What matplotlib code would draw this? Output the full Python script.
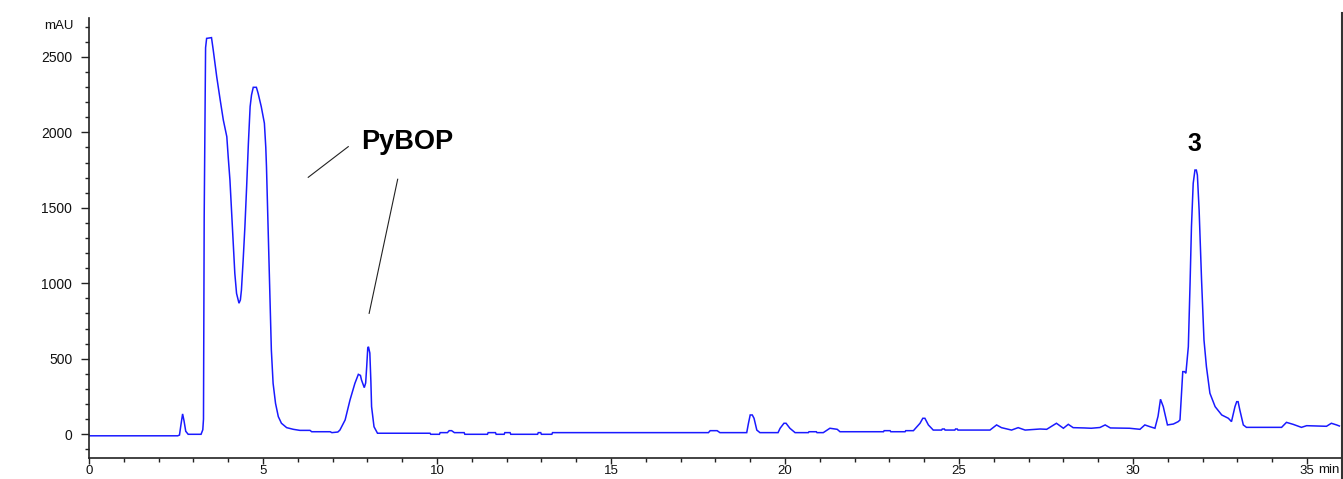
import matplotlib
matplotlib.use("Agg")
import matplotlib.pyplot as plt
from matplotlib.lines import Line2D
from matplotlib.ticker import MultipleLocator

plt.rcParams["font.family"] = ["Liberation Sans", "DejaVu Sans"]

# HPLC trace: retention time (min) and absorbance (mAU)
time_min = [
    0.0, 2.55, 2.60, 2.64, 2.69, 2.73, 2.78, 2.85, 3.22, 3.27, 3.29, 3.31, 3.35,
    3.38, 3.52, 3.57, 3.67, 3.77, 3.86, 3.96, 4.00, 4.05, 4.09, 4.14, 4.19, 4.24,
    4.31, 4.35, 4.38, 4.43, 4.48, 4.53, 4.58, 4.63, 4.67, 4.72, 4.81, 4.86, 4.95,
    5.04, 5.08, 5.10, 5.15, 5.20, 5.24, 5.29, 5.36, 5.44, 5.53, 5.68, 5.87, 6.06,
    6.35, 6.40, 6.93, 6.98, 7.15, 7.21, 7.36, 7.50, 7.64, 7.74, 7.80, 7.83, 7.91,
    7.95, 7.98, 8.01, 8.03, 8.07, 8.10, 8.12, 8.19, 8.29, 9.80, 9.82, 10.07, 10.09,
    10.30, 10.35, 10.42, 10.50, 10.78, 10.80, 11.45, 11.47, 11.68, 11.70, 11.93,
    11.95, 12.10, 12.12, 12.89, 12.91, 12.98, 13.00, 13.30, 13.32, 17.80, 17.85,
    18.05, 18.13, 18.90, 18.95, 19.00, 19.06, 19.11, 19.19, 19.28, 19.80, 19.86,
    19.97, 20.03, 20.14, 20.29, 20.67, 20.69, 20.90, 20.92, 21.10, 21.29, 21.50,
    21.58, 22.83, 22.85, 23.02, 23.04, 23.45, 23.47, 23.69, 23.88, 23.96, 24.02,
    24.12, 24.26, 24.50, 24.52, 24.58, 24.60, 24.88, 24.90, 24.95, 24.97, 25.89,
    26.08, 26.22, 26.51, 26.70, 26.90, 27.33, 27.52, 27.80, 28.00, 28.14, 28.28,
    28.60, 28.80, 29.05, 29.20, 29.35, 29.90, 30.20, 30.34, 30.49, 30.63, 30.72,
    30.79, 30.87, 30.99, 31.16, 31.30, 31.35, 31.40, 31.43, 31.48, 31.52, 31.59,
    31.64, 31.68, 31.73, 31.78, 31.82, 31.85, 31.90, 31.97, 32.04, 32.11, 32.21,
    32.36, 32.55, 32.74, 32.83, 32.93, 32.98, 33.02, 33.07, 33.17, 33.26, 34.27,
    34.41, 34.60, 34.84, 34.99, 35.56, 35.70, 35.85, 35.93,
]
absorbance_mau = [
    -10, -10, -5, 60, 135, 90, 20, 0, 0, 30, 100, 1440, 2560,
    2622, 2627, 2545, 2368, 2214, 2081, 1971, 1838, 1684, 1507, 1287, 1066, 933,
    868, 890, 955, 1154, 1375, 1640, 1927, 2170, 2247, 2298, 2298, 2258, 2170,
    2060, 1900, 1772, 1331, 889, 558, 338, 205, 117, 73, 44, 33, 26,
    26, 17, 17, 11, 15, 28, 95, 227, 337, 397, 390, 360, 309,
    340, 448, 570, 580, 538, 350, 183, 50, 7, 7, 0, 0, 11,
    11, 24, 24, 11, 11, 0, 0, 11, 11, 0, 0,
    11, 11, 0, 0, 11, 11, 0, 0, 11, 11, 24,
    24, 11, 11, 73, 128, 128, 106, 28, 11, 11, 40,
    73, 73, 40, 11, 11, 17, 17, 11, 11, 40, 33,
    17, 17, 24, 24, 17, 17, 24, 24, 73, 106, 106,
    62, 28, 28, 35, 35, 28, 28, 35, 35, 28, 28,
    62, 44, 28, 44, 28, 35, 33, 73, 40, 66, 44,
    42, 40, 45, 62, 42, 40, 33, 62, 50, 40, 120,
    232, 183, 62, 68, 84, 95, 300, 415, 415, 404, 580,
    1000, 1375, 1662, 1750, 1750, 1717, 1485, 1022, 624, 448, 272,
    183, 128, 106, 84, 183, 216, 216, 161, 62, 46, 46,
    79, 66, 46, 57, 53, 73, 62, 55,
]

x_major = [0, 5, 10, 15, 20, 25, 30, 35]
y_major = [0, 500, 1000, 1500, 2000, 2500]

W, H = 1343, 479
fig = plt.figure(figsize=(W / 100, H / 100), dpi=100)
ax = fig.add_axes([89 / W, 21 / H, (1341 - 89) / W, (458 - 18) / H])

ax.plot(time_min, absorbance_mau, color="#1a1aff", lw=1.1, solid_joinstyle="miter")

ax.set_xlim(0, (1341 - 89) / 34.8)
ax.set_ylim(-157, 2757)

ax.set_xticks(x_major)
ax.set_xticklabels([str(v) for v in x_major])
ax.set_yticks(y_major)
ax.set_yticklabels([str(v) for v in y_major])
ax.xaxis.set_minor_locator(MultipleLocator(1))
ax.yaxis.set_minor_locator(MultipleLocator(100))

for side in ("top", "right"):
    ax.spines[side].set_visible(False)
for side in ("left", "bottom"):
    ax.spines[side].set_color("#222222")
    ax.spines[side].set_linewidth(1.2)

ax.tick_params(axis="both", which="both", direction="out", color="#222222",
               labelcolor="#111111", width=1.0)
ax.tick_params(axis="x", which="major", length=4, pad=1, labelsize=9.5)
ax.tick_params(axis="x", which="minor", length=3)
ax.tick_params(axis="y", which="major", length=6, pad=6, labelsize=10)
ax.tick_params(axis="y", which="minor", length=3)

# unit labels
fig.text(74 / W, 1 - 26 / H, "mAU", ha="right", va="center", fontsize=9.5, color="#111111")
fig.text(1318 / W, 1 - 470 / H, "min", ha="left", va="center", fontsize=9.5, color="#111111")

# peak annotations
ax.text(7.83, 1887, "PyBOP", fontsize=19.5, fontweight="bold", ha="left", va="baseline")
ax.plot([6.30, 7.45], [1702, 1905], color="#222222", lw=0.8)
ax.plot([8.87, 8.05], [1689, 801], color="#222222", lw=0.8)
ax.text(31.77, 1878, "3", fontsize=18, fontweight="bold", ha="center", va="baseline")

# frame edge on the right
fig.add_artist(Line2D([1342 / W, 1342 / W], [0, 1 - 13 / H], transform=fig.transFigure,
                      color="#333333", lw=1.5))

fig.savefig("out.png", dpi=100)
